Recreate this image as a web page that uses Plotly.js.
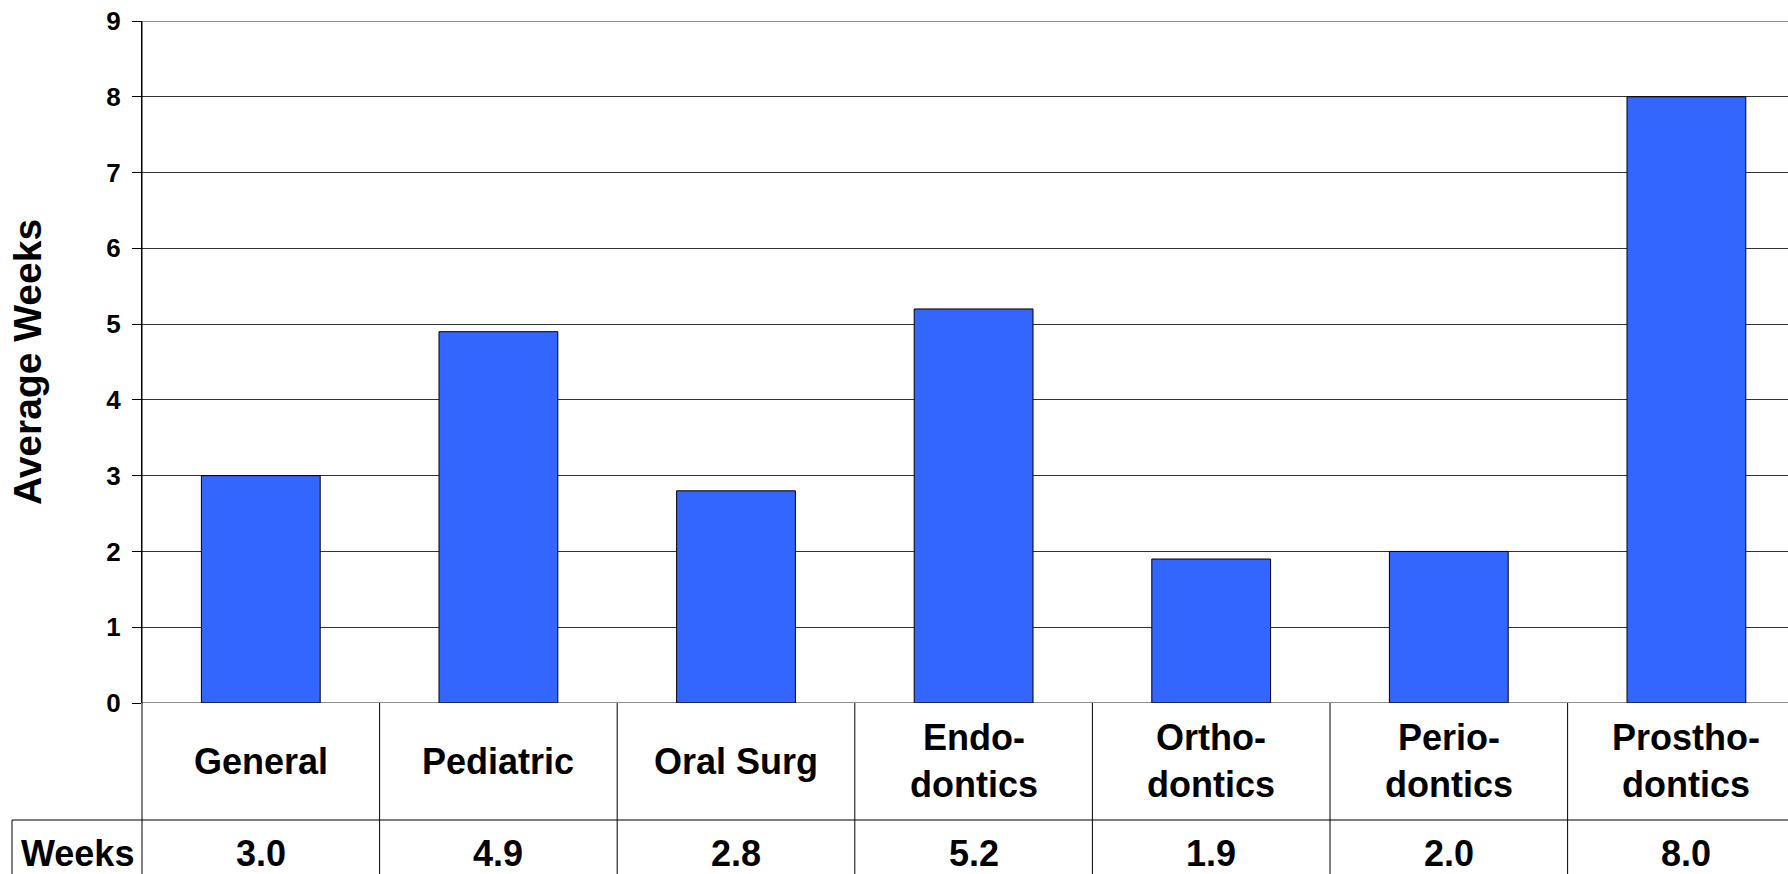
<!DOCTYPE html>
<html>
<head>
<meta charset="utf-8">
<script src="https://cdn.plot.ly/plotly-3.0.1.min.js"></script>
<style>html,body{margin:0;padding:0;background:#fff;overflow:hidden;}#chart{width:1788px;height:874px;}</style>
</head>
<body>
<div id="chart"></div>
<script>
// ---- data ----
var categories = ["General", "Pediatric", "Oral Surg", "Endo-dontics", "Ortho-dontics", "Perio-dontics", "Prostho-dontics"];
var categoryLabels = ["General", "Pediatric", "Oral Surg", "Endo-<br>dontics", "Ortho-<br>dontics", "Perio-<br>dontics", "Prostho-<br>dontics"];
var weeks = [3.0, 4.9, 2.8, 5.2, 1.9, 2.0, 8.0];
var rowLabel = "Weeks";
var yTitle = "Average Weeks";
var yTicks = [0, 1, 2, 3, 4, 5, 6, 7, 8, 9];

// ---- layout geometry (pixels) ----
var FIG_W = 1788, FIG_H = 874;
var M_L = 142, M_R = 0, M_T = 21, M_B = 171;
var PW = FIG_W - M_L - M_R, PH = FIG_H - M_T - M_B;
function py(Y) { return (FIG_H - M_B - Y) / PH; }
function px(X) { return (X - M_L) / PW; }

var FONT = "Liberation Sans, Arial, Helvetica, sans-serif";
var idx = categories.map(function (c, i) { return i; });

var trace = {
  type: "bar",
  x: idx,
  y: weeks,
  width: 0.5,
  marker: { color: "#3366FF", line: { color: "#000000", width: 1 } },
  hoverinfo: "skip"
};

var shapes = [];
var annotations = [];
var rowSplitY = 820;

// top and bottom gridlines (edge lines)
[yTicks[0], yTicks[yTicks.length - 1]].forEach(function (v) {
  shapes.push({ type: "line", xref: "paper", yref: "y", x0: 0, x1: 1, y0: v, y1: v,
    line: { color: "#222", width: 1 }, layer: "above" });
});
// vertical cell borders between categories
for (var i = 0; i < categories.length - 1; i++) {
  shapes.push({ type: "line", xref: "x", yref: "paper", x0: i + 0.5, x1: i + 0.5,
    y0: py(FIG_H + 5), y1: 0, line: { color: "#000", width: 1 } });
}
// left border extended down
shapes.push({ type: "line", xref: "paper", yref: "paper", x0: 0, x1: 0,
  y0: py(FIG_H + 5), y1: 1, line: { color: "#000", width: 1 } });
// row separator
shapes.push({ type: "line", xref: "paper", yref: "paper", x0: px(12), x1: 1,
  y0: py(rowSplitY), y1: py(rowSplitY), line: { color: "#000", width: 1 } });
// row header cell left border
shapes.push({ type: "line", xref: "paper", yref: "paper", x0: px(12), x1: px(12),
  y0: py(FIG_H + 5), y1: py(rowSplitY), line: { color: "#000", width: 1 } });

var tf = { family: FONT, size: 36, color: "#000", weight: "bold" };
for (var j = 0; j < categories.length; j++) {
  annotations.push({ xref: "x", yref: "paper", x: idx[j], y: py(761), xanchor: "center", yanchor: "middle",
    text: categoryLabels[j], showarrow: false, font: tf, align: "center" });
  annotations.push({ xref: "x", yref: "paper", x: idx[j], y: py(853), xanchor: "center", yanchor: "middle",
    text: weeks[j].toFixed(1), showarrow: false, font: tf, align: "center" });
}
annotations.push({ xref: "paper", yref: "paper", x: px(77), y: py(853), xanchor: "center", yanchor: "middle",
  text: rowLabel, showarrow: false, font: tf });

var layout = {
  width: FIG_W, height: FIG_H,
  margin: { l: M_L, r: M_R, t: M_T, b: M_B, pad: 0 },
  paper_bgcolor: "#fff", plot_bgcolor: "#fff",
  showlegend: false,
  bargap: 0.5,
  xaxis: {
    type: "linear", range: [-0.5, -0.5 + PW / 237.6],
    showticklabels: false, ticks: "", showgrid: false, zeroline: false,
    showline: false, fixedrange: true
  },
  yaxis: {
    range: [0, 9], tickvals: yTicks, ticktext: yTicks.map(String),
    ticks: "outside", ticklen: 9, tickwidth: 1, tickcolor: "#000",
    ticklabelstandoff: 6,
    showline: true, linecolor: "#000", linewidth: 1,
    showgrid: true, gridcolor: "#333", gridwidth: 1,
    zeroline: false,
    tickfont: { family: FONT, size: 26, color: "#000", weight: "bold" },
    title: { text: yTitle, standoff: 52, font: { family: FONT, size: 39, color: "#000", weight: "bold" } },
    automargin: false, fixedrange: true
  },
  shapes: shapes,
  annotations: annotations
};

Plotly.newPlot("chart", [trace], layout, { displayModeBar: false, staticPlot: true });
</script>
</body>
</html>
